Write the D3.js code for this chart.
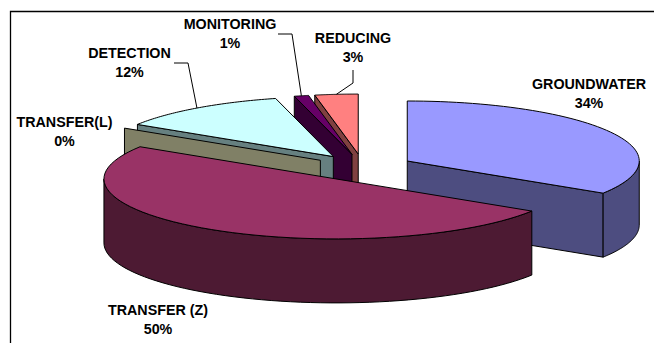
<!DOCTYPE html>
<html>
<head>
<meta charset="utf-8">
<script src="https://cdn.jsdelivr.net/npm/d3@7"></script>
<style>
  html, body { margin: 0; padding: 0; background: #fff; overflow: hidden; }
  svg { display: block; }
  text { font-family: "Liberation Sans", Arial, sans-serif; font-weight: bold; font-size: 14.3px; fill: #000; }
</style>
</head>
<body>
<svg id="chart" width="654" height="343"></svg>
<script>
// Exploded 3D pie of the share of each category
const categories = ["GROUNDWATER", "TRANSFER (Z)", "TRANSFER(L)", "DETECTION", "MONITORING", "REDUCING"];
const shares = [34, 50, 0, 12, 1, 3];
const topColors = ["#9999ff", "#993366", "#ffffcc", "#ccffff", "#660066", "#ff8080"];
const sideColors = ["#4d4d80", "#4d1a33", "#808066", "#668080", "#330033", "#804040"];
const labelCenters = [[589, 89], [158, 314.5], [64.5, 127], [129.5, 58], [230, 29], [353, 43]];
const leaderElbows = [null, null, null, [[174, 63], [188, 63]], [[278, 34], [292, 34]], [[353, 70], [353, 83]]];

const cx = 363, cy = 167.5;        // pie centre before explosion
const rx = 232, ry = 60;           // ellipse of the tilted top face
const depth = 64;                  // extrusion height
const explodeX = 50.5, explodeY = 13.5;  // radial offset of each slice on the ellipse axes

const svg = d3.select("#chart");

// Chart frame: only its top and left edges fall inside the page
svg.append("path")
  .attr("d", d3.line()([[10.5, 343], [10.5, 11.5], [654, 11.5]]))
  .attr("fill", "none")
  .attr("stroke", "#000")
  .attr("stroke-width", 1.3);

const arcs = d3.pie().sort(null).value(d => d)(shares);

// Clockwise angle from 12 o'clock, projected on to the tilted ellipse
const toXY = (o, a) => [o[0] + rx * Math.sin(a), o[1] - ry * Math.cos(a)];
const down = p => [p[0], p[1] + depth];
const sampleAngles = (a0, a1) => d3.range(0, 61).map(i => a0 + (a1 - a0) * i / 60);
const line = d3.line();

const slices = arcs.map((d, i) => {
  const mid = (d.startAngle + d.endAngle) / 2;
  const origin = [
    cx + explodeX * Math.sin(mid),
    cy - explodeY * Math.cos(mid)
  ];
  return { ...d, i, mid, origin };
});

function face(g, pts, fill) {
  g.append("path")
    .attr("d", line(pts) + "Z")
    .attr("fill", fill)
    .attr("stroke", "#000")
    .attr("stroke-width", 1)
    .attr("stroke-linejoin", "round");
}

// Painted from the back of the pie towards the viewer
const paintOrder = [5, 4, 3, 2, 0, 1];
paintOrder.forEach(idx => {
  const s = slices[idx];
  const g = svg.append("g").attr("class", "slice");
  const o = s.origin;
  const side = sideColors[s.i];

  // Radial cut faces that turn towards the viewer
  [[s.startAngle, Math.sin(s.startAngle) < 0], [s.endAngle, Math.sin(s.endAngle) > 0]]
    .filter(e => e[1])
    .forEach(([a]) => {
      const p = toXY(o, a);
      face(g, [o, p, down(p), down(o)], side);
    });

  // Outer wall, only along the near half of the ellipse
  const a0 = Math.max(s.startAngle, Math.PI / 2);
  const a1 = Math.min(s.endAngle, 3 * Math.PI / 2);
  if (a1 > a0) {
    const rim = sampleAngles(a0, a1).map(a => toXY(o, a));
    face(g, rim.concat(rim.map(down).reverse()), side);
  }

  // Top face
  if (s.endAngle > s.startAngle) {
    const top = sampleAngles(s.startAngle, s.endAngle).map(a => toXY(o, a));
    face(g, [o].concat(top), topColors[s.i]);
  }
});

// Leader lines run from the rim at the middle of the slice to the label
leaderElbows.forEach((elbow, i) => {
  if (!elbow) return;
  const s = slices[i];
  svg.append("path")
    .attr("d", line(elbow.concat([toXY(s.origin, s.mid)])))
    .attr("fill", "none")
    .attr("stroke", "#000")
    .attr("stroke-width", 1);
});

// Two-line labels: category name and rounded percentage
categories.forEach((name, i) => {
  const t = svg.append("text")
    .attr("text-anchor", "middle")
    .attr("x", labelCenters[i][0])
    .attr("y", labelCenters[i][1]);
  t.append("tspan").attr("x", labelCenters[i][0]).text(name);
  t.append("tspan").attr("x", labelCenters[i][0]).attr("dy", 19).text(shares[i] + "%");
});
</script>
</body>
</html>
